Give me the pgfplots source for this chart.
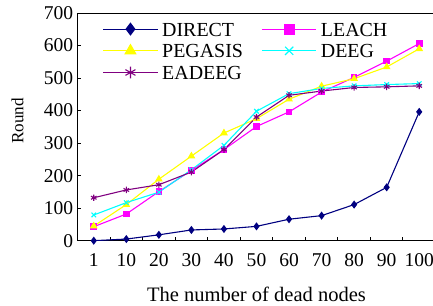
\documentclass[border=0pt]{standalone}
\usepackage{pgfplots}
\pgfplotsset{compat=1.18}
\usepackage{fontspec}
\setmainfont{Liberation Serif}
\definecolor{cdirect}{RGB}{0,0,128}
\definecolor{cleach}{RGB}{255,0,255}
\definecolor{cpeg}{RGB}{255,255,0}
\definecolor{cdeeg}{RGB}{0,255,255}
\definecolor{cead}{RGB}{128,0,128}
\begin{document}
\begin{tikzpicture}
\begin{axis}[
  name=a,
  scale only axis,
  width=179bp, height=113.85bp,
  xmin=-0.5, xmax=10.5, ymin=0, ymax=700,
  xtick pos=bottom, ytick pos=left,
  xtick={0,...,10},
  xticklabels={1,10,20,30,40,50,60,70,80,90,100},
  minor xtick={-0.5,0.5,...,10.5},
  ytick={0,100,...,700},
  major x tick style={draw=none},
  tick align=inside,
  major tick length=1.8bp, minor tick length=2bp,
  tick style={black, line width=0.5pt},
  axis line style={black, line width=0.5pt},
  every tick label/.append style={font=\fontsize{9.8}{11}\selectfont},
  /pgf/number format/assume math mode=true,
  yticklabel style={anchor=east, inner sep=0pt, xshift=-2bp},
  xticklabel style={anchor=base, yshift=-13bp},
  xlabel={The number of dead nodes},
  ylabel={Round},
  xlabel style={font=\fontsize{10.3}{12}\selectfont, at={(axis description cs:0.5,0)},
    anchor=base, yshift=-30.5bp, inner sep=1bp},
  ylabel style={font=\fontsize{8.6}{10}\selectfont, at={(axis description cs:-0.1514,0.5265)},
    anchor=base, inner sep=1bp},
  legend style={draw=none, fill=none, at={(0.0693,0.9618)}, anchor=north west,
    font=\fontsize{10}{11}\selectfont, legend columns=2,
    nodes={inner sep=0pt, text height=7bp, text depth=0pt},
    /tikz/every odd column/.append style={column sep=2bp},
    /tikz/every even column/.append style={column sep=9.2bp},
    row sep=3.85bp, inner sep=0pt},
  legend cell align=left,
  legend image code/.code={
    \draw[mark repeat=2,mark phase=2, mark options={scale=1.8}] plot coordinates {(0bp,0bp) (13.6bp,0bp) (27.2bp,0bp)};},
  every axis plot/.append style={line width=0.55pt},
]
\addplot[color=cdirect, mark=diamond*, mark size=1.6bp] coordinates {
(0,0) (1,5) (2,18) (3,33) (4,36) (5,44) (6,66) (7,77) (8,111) (9,164) (10,396)};
\addlegendentry{DIRECT}
\addplot[color=cleach, mark=square*, mark size=1.4bp] coordinates {
(0,43) (1,82) (2,151) (3,216) (4,280) (5,351) (6,396) (7,457) (8,502) (9,552) (10,606)};
\addlegendentry{LEACH}
\addplot[color=cpeg, mark=triangle*, mark size=1.7bp] coordinates {
(0,45) (1,111) (2,189) (3,260) (4,331) (5,375) (6,435) (7,475) (8,498) (9,534) (10,590)};
\addlegendentry{PEGASIS}
\addplot[color=cdeeg, mark=x, mark size=1.6bp] coordinates {
(0,79) (1,117) (2,149) (3,218) (4,293) (5,398) (6,452) (7,468) (8,476) (9,480) (10,483)};
\addlegendentry{DEEG}
\addplot[color=cead, mark=asterisk, mark size=1.6bp] coordinates {
(0,132) (1,156) (2,172) (3,211) (4,280) (5,380) (6,447) (7,460) (8,471) (9,473) (10,476)};
\addlegendentry{EADEEG}
\end{axis}
\pgfresetboundingbox
\useasboundingbox ([xshift=-38.75bp,yshift=-32.65bp]a.south west) rectangle ([xshift=-1.25bp,yshift=6.5bp]a.north east);
\end{tikzpicture}
\end{document}
